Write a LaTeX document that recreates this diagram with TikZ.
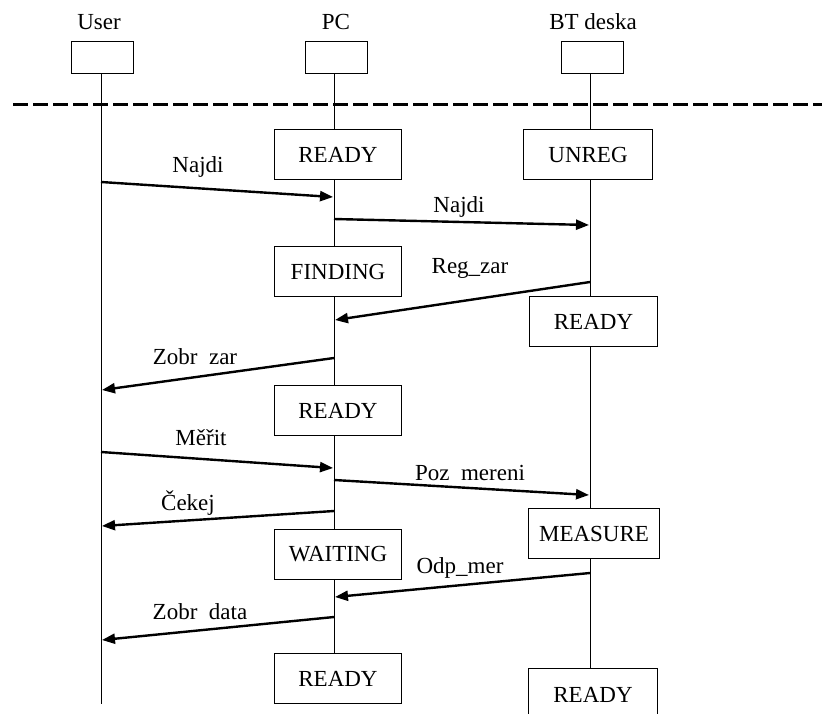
\documentclass[tikz,border=0pt]{standalone}
\usepackage{fontspec}
\setmainfont{Liberation Serif}
\usetikzlibrary{arrows.meta}
\begin{document}
\begin{tikzpicture}[x=1pt,y=-1pt,
  every node/.style={font=\fontsize{23}{27}\selectfont},
  obj/.style={draw,line width=1pt,minimum width=62pt,minimum height=32pt,inner sep=0pt},
  state/.style={draw,fill=white,line width=1pt,minimum width=127pt,minimum height=50pt,anchor=north west,inner sep=0pt},
  msg/.style={line width=2.4pt,-{Triangle[length=13pt,width=10pt]}}]
\useasboundingbox (0,0) rectangle (822,713);
% objects and lifelines
\node (usrlab) at (99,22) {User};
\node (pclab) at (336,22) {PC};
\node (btlab) at (593,22) {BT deska};
\node[obj] (usr) at (102,57) {};
\node[obj] (pc) at (336,57) {};
\node[obj] (bt) at (592,57) {};
\draw[line width=1pt] (usr.south) ++(-1,0) coordinate (usrtop) -- ++(0,630) coordinate (usrend);
\draw[line width=1pt] (pc.south) ++(-2,0) coordinate (pctop) -- ++(0,600) coordinate (pcend);
\draw[line width=1pt] (bt.south) ++(-2,0) coordinate (bttop) -- ++(0,640) coordinate (btend);
\draw[line width=3pt,dash pattern=on 15pt off 5pt] (13,104) coordinate (dl) -- (822,104) coordinate (dr);
% states
\node[state] (pcready) at (274,129) {READY};
\node[state] (pcfind) at (274,246) {FINDING};
\node[state] (pcready2) at (274,385) {READY};
\node[state] (pcwait) at (274,529) {WAITING};
\node[state] (pcready3) at (274,653) {READY};
\node[state,minimum width=129pt] (btunreg) at (523,129) {UNREG};
\node[state,minimum width=128pt] (btready) at (529,296) {READY};
\node[state,minimum width=131pt] (btmeas) at (528,508) {MEASURE};
\node[state,minimum width=129pt,minimum height=52pt] (btready2) at (528,668) {READY};
% messages
\foreach \a/\b/\c/\d [count=\i] in {101/182/333/197, 334/219/589/225, 590/282/335/320,
  334/358/102/390, 101/452/333/468, 334/480/589/495, 334/511/102/526,
  590/573/335/597, 334/617/102/640}
  {\coordinate (s\i) at (\a,\b); \coordinate (e\i) at (\c,\d);
   \draw[msg] (s\i) -- (e\i);}
\node (najdi1) at (198,167) {Najdi};
\node (najdi2) at (459,207) {Najdi};
\node (regzar) at (470,268) {Reg\_zar};
\node (zobrzar) at (195,357) {Zobr\ \ zar};
\node (merit) at (201,438) {Měřit};
\node (pozmer) at (470,473) {Poz\ \ mereni};
\node (cekej) at (188,503) {Čekej};
\node (odpmer) at (460,568) {Odp\_mer};
\node (zobrdata) at (200,612) {Zobr\ \ data};
\end{tikzpicture}
\end{document}
